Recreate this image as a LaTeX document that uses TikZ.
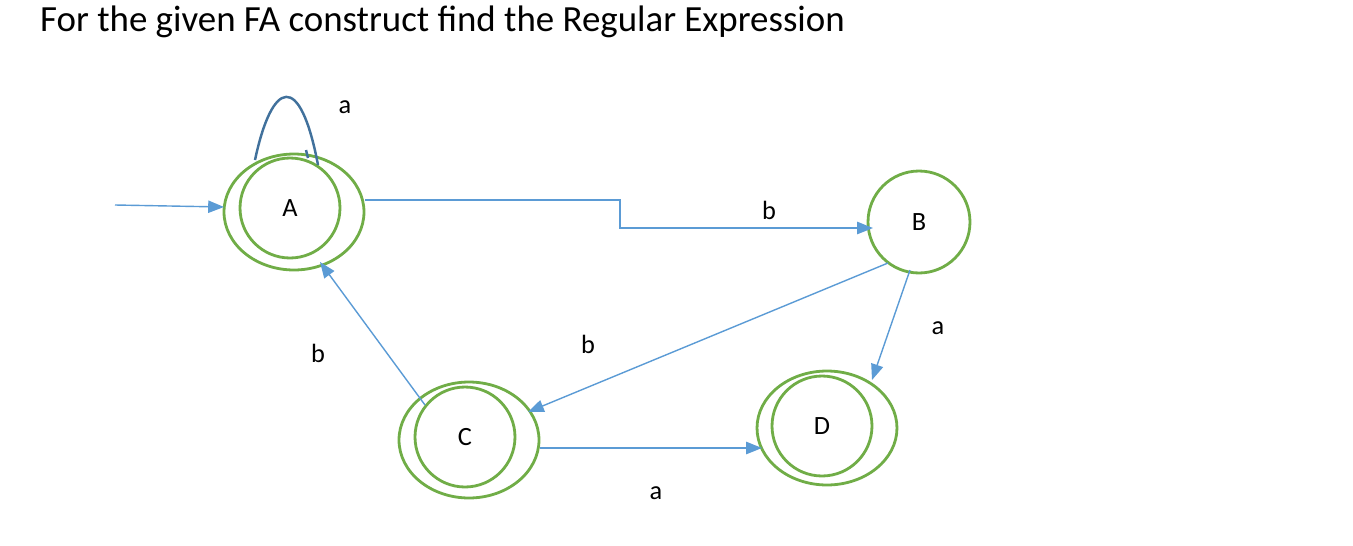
\documentclass[tikz,border=0pt]{standalone}
\usepackage{fontspec}
\setmainfont{Carlito}
\usetikzlibrary{shapes.geometric,arrows.meta}
\definecolor{sg}{HTML}{70AD47}
\definecolor{ab}{HTML}{5B9BD5}
\definecolor{lb}{HTML}{41719C}
\begin{document}
\begin{tikzpicture}[x=0.02cm,y=-0.02cm,
 outer/.style={draw=sg,line width=1.6pt,ellipse},
 st/.style={draw=sg,line width=1.6pt,circle,font=\fontsize{15}{17}\selectfont},
 edge/.style={draw=ab,line width=0.8pt,-{Triangle[length=9pt,width=7pt]}},
 lbl/.style={font=\fontsize{15}{17}\selectfont}]
\useasboundingbox (0,0) rectangle (1353,545);
\node[anchor=west,font=\fontsize{21}{24}\selectfont] (title) at (34,22) {For the given FA construct find the Regular Expression};
\node[outer,minimum width=2.8cm,minimum height=2.32cm] (Ao) at (294,212) {};
\node[st,minimum size=2cm] (A) at (290,208) {A};
\node[st,minimum size=2.04cm] (B) at (919,222) {B};
\node[outer,minimum width=2.8cm,minimum height=2.32cm] (Co) at (469,440) {};
\node[st,minimum size=2cm] (C) at (465,437) {C};
\node[outer,minimum width=2.8cm,minimum height=2.28cm] (Do) at (827,428) {};
\node[st,minimum size=2cm] (D) at (822,426) {D};
\coordinate (s) at (115,205);
\coordinate (a0) at (224,207);
\coordinate (a1) at (365,200);
\coordinate (b1) at (873,228);
\coordinate (b2) at (888,263);
\coordinate (c2) at (528,412);
\coordinate (b3) at (910,270);
\coordinate (d3) at (872,380);
\coordinate (c4) at (425,405);
\coordinate (a4) at (320,262);
\coordinate (c5) at (540,448);
\coordinate (d5) at (762,448);
\draw[edge] (s) -- (a0);
\draw[edge] (a1) -- (620,200) -- (620,228) -- (b1);
\draw[edge] (b2) -- (c2);
\draw[edge] (b3) -- (d3);
\draw[edge] (c4) -- (a4);
\draw[edge] (c5) -- (d5);
\draw[draw=lb,line width=1.4pt] (255,160) .. controls (272,80) and (300,70) .. (318,165);
\draw[draw=lb,line width=1.4pt] (306,150) -- (308,158);
\node[lbl] (l1) at (345,107) {a};
\node[lbl] (l2) at (769,210) {b};
\node[lbl] (l3) at (938,328) {a};
\node[lbl] (l4) at (588,344) {b};
\node[lbl] (l5) at (318,353) {b};
\node[lbl] (l6) at (656,493) {a};
\end{tikzpicture}
\end{document}
